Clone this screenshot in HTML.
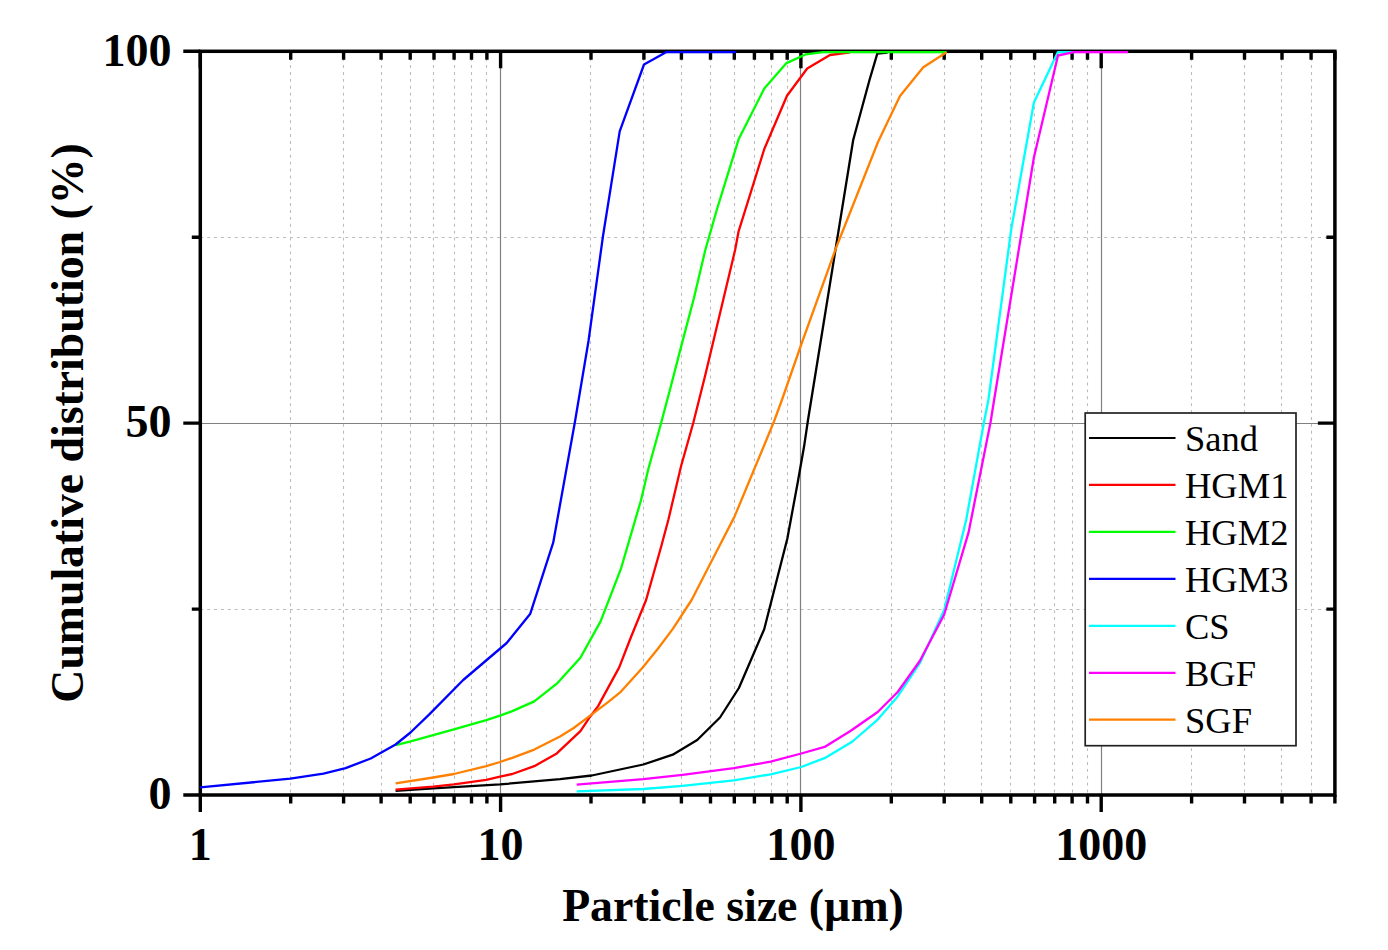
<!DOCTYPE html><html><head><meta charset="utf-8"><style>html,body{margin:0;padding:0;background:#fff;}svg{display:block;}</style></head><body>
<svg width="1388" height="950" viewBox="0 0 1388 950">
<rect width="1388" height="950" fill="#fff"/>
<path d="M290.5 51.3V795.0M343.5 51.3V795.0M381.5 51.3V795.0M410.5 51.3V795.0M433.5 51.3V795.0M454.5 51.3V795.0M471.5 51.3V795.0M486.5 51.3V795.0M590.5 51.3V795.0M643.5 51.3V795.0M681.5 51.3V795.0M710.5 51.3V795.0M734.5 51.3V795.0M754.5 51.3V795.0M771.5 51.3V795.0M787.5 51.3V795.0M891.5 51.3V795.0M944.5 51.3V795.0M981.5 51.3V795.0M1010.5 51.3V795.0M1034.5 51.3V795.0M1054.5 51.3V795.0M1072.5 51.3V795.0M1087.5 51.3V795.0M1191.5 51.3V795.0M1244.5 51.3V795.0M1281.5 51.3V795.0M1311.5 51.3V795.0M1334.5 51.3V795.0M200.3 609.5H1334.8788204902082M200.3 237.5H1334.8788204902082" stroke="#bcbcbc" stroke-width="1.1" stroke-dasharray="2.9 4" fill="none"/>
<path d="M500.5 51.3V795.0M800.5 51.3V795.0M1101.5 51.3V795.0M200.3 423.5H1334.8788204902082" stroke="#808080" stroke-width="1.2" fill="none"/>
<rect x="200.3" y="51.3" width="1134.6" height="743.7" stroke="#000" stroke-width="3.5" fill="none"/>
<path d="M200.3 795.0v17M200.3 51.3v17M290.7 795.0v8.5M290.7 51.3v8.5M343.6 795.0v8.5M343.6 51.3v8.5M381.1 795.0v8.5M381.1 51.3v8.5M410.2 795.0v8.5M410.2 51.3v8.5M434.0 795.0v8.5M434.0 51.3v8.5M454.1 795.0v8.5M454.1 51.3v8.5M471.5 795.0v8.5M471.5 51.3v8.5M486.9 795.0v8.5M486.9 51.3v8.5M500.6 795.0v17M500.6 51.3v17M591.0 795.0v8.5M591.0 51.3v8.5M643.9 795.0v8.5M643.9 51.3v8.5M681.4 795.0v8.5M681.4 51.3v8.5M710.5 795.0v8.5M710.5 51.3v8.5M734.3 795.0v8.5M734.3 51.3v8.5M754.4 795.0v8.5M754.4 51.3v8.5M771.8 795.0v8.5M771.8 51.3v8.5M787.2 795.0v8.5M787.2 51.3v8.5M800.9 795.0v17M800.9 51.3v17M891.3 795.0v8.5M891.3 51.3v8.5M944.2 795.0v8.5M944.2 51.3v8.5M981.7 795.0v8.5M981.7 51.3v8.5M1010.8 795.0v8.5M1010.8 51.3v8.5M1034.6 795.0v8.5M1034.6 51.3v8.5M1054.7 795.0v8.5M1054.7 51.3v8.5M1072.1 795.0v8.5M1072.1 51.3v8.5M1087.5 795.0v8.5M1087.5 51.3v8.5M1101.2 795.0v17M1101.2 51.3v17M1191.6 795.0v8.5M1191.6 51.3v8.5M1244.5 795.0v8.5M1244.5 51.3v8.5M1282.0 795.0v8.5M1282.0 51.3v8.5M1311.1 795.0v8.5M1311.1 51.3v8.5M1334.9 795.0v8.5M1334.9 51.3v8.5M200.3 795.0h-17M200.3 609.1h-8.5M1334.8788204902082 609.1h-8.5M200.3 423.1h-17M1334.8788204902082 423.1h-17M200.3 237.2h-8.5M1334.8788204902082 237.2h-8.5M200.3 51.3h-17" stroke="#000" stroke-width="3.4" fill="none"/>
<path d="M395.6 790.9 L433.2 788.3 L500.0 784.4 L560.0 779.2 L591.8 775.5 L643.3 764.5 L672.7 754.7 L697.2 740.0 L720.0 717.5 L738.9 688.0 L764.2 629.2 L787.3 538.8 L797.8 482.0 L804.1 446.3 L808.0 420.0 L853.2 140.0 L869.5 80.0 L877.3 53.6 L887.6 52.5" stroke="#000000" stroke-width="2.3" fill="none" stroke-linejoin="round" stroke-linecap="butt"/>
<path d="M395.6 789.6 L433.2 786.6 L453.9 784.4 L486.3 779.9 L500.0 776.6 L512.3 774.0 L534.3 766.2 L556.8 753.4 L580.4 731.2 L590.5 716.2 L598.1 706.1 L619.2 667.4 L631.0 637.0 L646.1 600.0 L661.2 546.5 L668.3 520.0 L681.1 466.0 L693.3 422.8 L705.3 375.0 L719.5 315.4 L735.1 250.0 L738.6 231.3 L764.3 149.0 L787.0 95.7 L807.2 68.5 L830.0 55.0 L850.0 52.3" stroke="#ff0000" stroke-width="2.3" fill="none" stroke-linejoin="round" stroke-linecap="butt"/>
<path d="M395.6 745.2 L409.8 741.6 L433.2 735.1 L453.9 729.3 L486.3 720.2 L500.0 715.7 L512.3 711.1 L534.3 701.4 L556.8 683.7 L580.4 657.8 L600.6 621.4 L620.8 569.2 L641.0 500.2 L648.4 468.8 L661.2 422.8 L671.2 385.0 L681.1 346.6 L693.9 298.3 L705.3 250.0 L716.9 209.5 L738.6 139.3 L764.3 88.4 L786.5 63.1 L806.0 54.3 L822.8 52.2 L946.6 52.2" stroke="#00ff00" stroke-width="2.3" fill="none" stroke-linejoin="round" stroke-linecap="butt"/>
<path d="M200.2 787.3 L290.3 778.7 L323.5 773.6 L345.6 768.1 L370.7 758.5 L395.6 744.5 L410.5 732.5 L429.3 714.4 L463.2 680.0 L506.7 643.0 L530.3 613.7 L553.2 542.7 L575.0 421.5 L588.5 341.0 L603.0 236.0 L619.7 131.4 L644.0 64.5 L666.0 52.2 L736.0 52.2" stroke="#0000ff" stroke-width="2.3" fill="none" stroke-linejoin="round" stroke-linecap="butt"/>
<path d="M576.7 791.4 L643.3 789.0 L682.5 785.8 L733.9 780.4 L770.7 774.3 L801.3 767.0 L825.8 757.6 L852.5 741.5 L877.7 719.6 L897.7 696.4 L919.8 663.2 L944.2 610.1 L966.3 519.4 L984.0 422.0 L988.4 400.0 L1011.2 229.5 L1033.9 102.5 L1057.8 52.2 L1075.0 52.2" stroke="#00ffff" stroke-width="2.3" fill="none" stroke-linejoin="round" stroke-linecap="butt"/>
<path d="M576.7 784.6 L643.3 779.2 L682.5 774.8 L733.9 768.2 L770.7 761.6 L801.3 753.5 L824.6 746.9 L850.4 731.0 L877.7 712.0 L897.7 692.0 L919.8 661.0 L944.2 614.5 L968.5 532.7 L990.6 422.0 L994.1 400.0 L1033.9 157.5 L1058.0 55.5 L1074.0 52.2 L1128.0 52.2" stroke="#ff00ff" stroke-width="2.3" fill="none" stroke-linejoin="round" stroke-linecap="butt"/>
<path d="M395.6 783.4 L433.2 777.5 L453.9 774.0 L486.3 766.2 L500.0 762.0 L512.3 757.8 L534.3 749.6 L560.0 736.4 L573.7 728.0 L590.5 715.4 L607.4 702.7 L620.8 691.8 L642.7 667.4 L657.9 648.8 L673.0 628.6 L691.6 600.0 L715.9 552.8 L734.4 516.9 L754.1 469.5 L773.8 422.0 L781.9 400.0 L800.0 348.0 L836.0 248.0 L878.0 142.0 L900.0 96.0 L923.3 67.2 L946.6 52.2" stroke="#ff8000" stroke-width="2.3" fill="none" stroke-linejoin="round" stroke-linecap="butt"/>
<g font-family="Liberation Serif" font-weight="bold" fill="#000">
<text transform="translate(200.3 859.5) scale(0.97 1)" text-anchor="middle" font-size="47.5">1</text>
<text transform="translate(500.6 859.5) scale(0.97 1)" text-anchor="middle" font-size="47.5">10</text>
<text transform="translate(800.9 859.5) scale(0.97 1)" text-anchor="middle" font-size="47.5">100</text>
<text transform="translate(1101.2 859.5) scale(0.97 1)" text-anchor="middle" font-size="47.5">1000</text>
<text transform="translate(171.5 65.5) scale(0.97 1)" text-anchor="end" font-size="47.5">100</text>
<text transform="translate(171.5 437.3) scale(0.97 1)" text-anchor="end" font-size="47.5">50</text>
<text transform="translate(171.5 809.2) scale(0.97 1)" text-anchor="end" font-size="47.5">0</text>
<text transform="translate(733.0 921.4) scale(0.979 1)" text-anchor="middle" font-size="46.8">Particle size (µm)</text>
<text transform="translate(82.6 423.0) rotate(-90) scale(0.974 1)" text-anchor="middle" font-size="47">Cumulative distribution (%)</text>
</g>
<rect x="1085.2" y="413" width="210.79999999999995" height="332.70000000000005" fill="#fff" stroke="#222" stroke-width="1.7"/>
<g font-family="Liberation Serif" font-size="36.5" fill="#000">
<path d="M1089 438.0H1175.5" stroke="#000000" stroke-width="2.2"/>
<text x="1185" y="451.0">Sand</text>
<path d="M1089 484.9H1175.5" stroke="#ff0000" stroke-width="2.2"/>
<text x="1185" y="497.95">HGM1</text>
<path d="M1089 531.9H1175.5" stroke="#00ff00" stroke-width="2.2"/>
<text x="1185" y="544.9">HGM2</text>
<path d="M1089 578.9H1175.5" stroke="#0000ff" stroke-width="2.2"/>
<text x="1185" y="591.85">HGM3</text>
<path d="M1089 625.8H1175.5" stroke="#00ffff" stroke-width="2.2"/>
<text x="1185" y="638.8">CS</text>
<path d="M1089 672.8H1175.5" stroke="#ff00ff" stroke-width="2.2"/>
<text x="1185" y="685.75">BGF</text>
<path d="M1089 719.7H1175.5" stroke="#ff8000" stroke-width="2.2"/>
<text x="1185" y="732.7">SGF</text>
</g>
</svg></body></html>
